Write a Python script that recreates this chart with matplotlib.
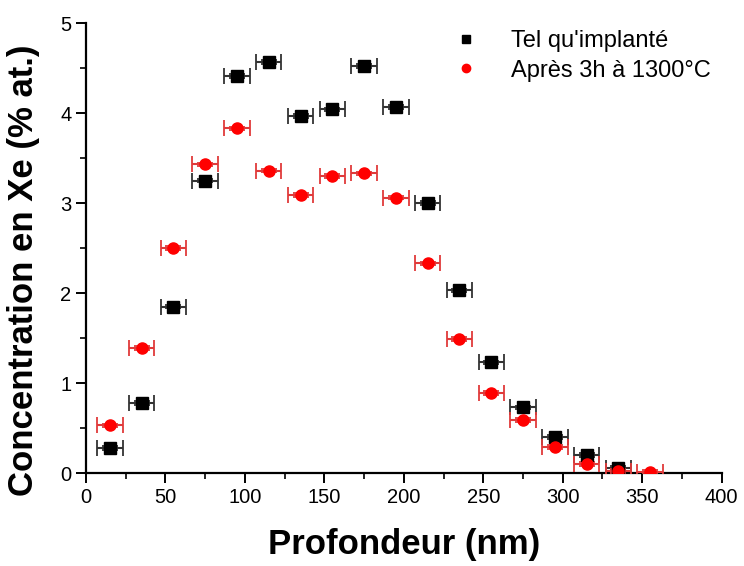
import matplotlib
matplotlib.use("Agg")
import matplotlib.pyplot as plt
from matplotlib.ticker import MultipleLocator

plt.rcParams.update({
    "font.family": ["Liberation Sans", "DejaVu Sans"],
    "font.size": 14,
    "axes.linewidth": 1.6,
    "xtick.major.width": 1.4,
    "ytick.major.width": 1.4,
    "xtick.minor.width": 1.2,
    "ytick.minor.width": 1.2,
})

# depth (nm) and Xe concentration (% at.)
depth_implant = [15, 35, 55, 75, 95, 115, 135, 155, 175, 195, 215, 235, 255, 275, 295, 315, 335]
conc_implant = [0.28, 0.78, 1.85, 3.25, 4.41, 4.57, 3.97, 4.04, 4.52, 4.07, 3.00, 2.03, 1.23, 0.73, 0.40, 0.20, 0.06]

depth_anneal = [15, 35, 55, 75, 95, 115, 135, 155, 175, 195, 215, 235, 255, 275, 295, 315, 335, 355]
conc_anneal = [0.53, 1.39, 2.50, 3.43, 3.83, 3.36, 3.09, 3.30, 3.33, 3.06, 2.33, 1.49, 0.89, 0.59, 0.29, 0.10, 0.02, 0.01]

depth_err = 8  # nm
conc_err = 0.02

label_implant = "Tel qu'implanté"
label_anneal = "Après 3h à 1300°C"

fig = plt.figure(figsize=(7.44, 5.66), dpi=100)
ax = fig.add_axes([0.1156, 0.1643, 0.8544, 0.795])

ax.errorbar(depth_implant, conc_implant, xerr=depth_err, yerr=conc_err,
            fmt="s", color="black", ms=8, ecolor="#333333", elinewidth=1.5,
            capsize=6, capthick=1.3, label=label_implant, zorder=3)
ax.errorbar(depth_anneal, conc_anneal, xerr=depth_err, yerr=conc_err,
            fmt="o", color="#ff0000", ms=8, ecolor="#e03a3a", elinewidth=1.5,
            capsize=6, capthick=1.3, label=label_anneal, zorder=3)

ax.set_xlim(0, 400)
ax.set_ylim(0, 5)
ax.xaxis.set_major_locator(MultipleLocator(50))
ax.xaxis.set_minor_locator(MultipleLocator(25))
ax.yaxis.set_major_locator(MultipleLocator(1))
ax.yaxis.set_minor_locator(MultipleLocator(0.5))
ax.tick_params(which="major", direction="out", length=7, labelsize=14.5)
ax.tick_params(which="minor", direction="out", length=4.5)
ax.spines["top"].set_visible(False)
ax.spines["right"].set_visible(False)

ax.set_xlabel("Profondeur (nm)", fontsize=25, fontweight="bold")
ax.set_ylabel("Concentration en Xe (% at.)", fontsize=25, fontweight="bold")
ax.xaxis.set_label_coords(0.5, -0.122)
ax.yaxis.set_label_coords(-0.072, 0.45)

handles, labels = ax.get_legend_handles_labels()
handles = [h[0] for h in handles]
ax.legend(handles, labels, loc="upper right", frameon=False, fontsize=17,
          handletextpad=1.1, handlelength=1.6, markerscale=0.75,
          borderaxespad=0.2, labelspacing=0.3, bbox_to_anchor=(1.005, 1.015))

fig.savefig("out.png", dpi=100)
